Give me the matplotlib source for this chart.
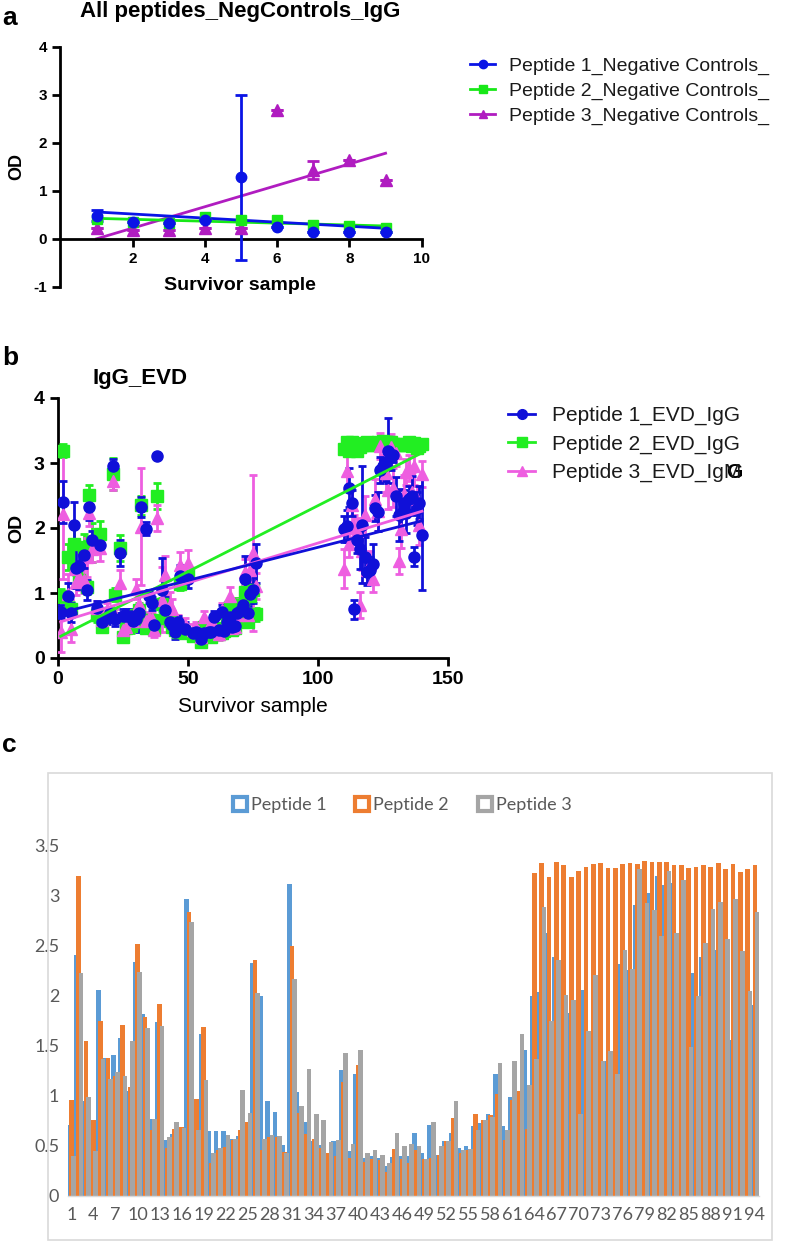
import numpy as np
import matplotlib.pyplot as plt
from matplotlib.lines import Line2D
from matplotlib.patches import Rectangle

W, H = 787, 1247

# ---- panel a: negative controls ----
neg_x = [1, 2, 3, 4, 5, 6, 7, 8, 9]
neg_p1 = [0.48, 0.35, 0.33, 0.38, 1.28, 0.25, 0.15, 0.13, 0.13]
neg_p1_err = [0.12, 0, 0, 0, 1.72, 0, 0, 0, 0]
neg_p2 = [0.42, 0.35, 0.33, 0.45, 0.38, 0.40, 0.28, 0.27, 0.22]
neg_p3 = [0.22, 0.18, 0.18, 0.22, 0.22, 2.68, 1.43, 1.65, 1.22]
neg_p3_err = [0, 0, 0, 0, 0, 0, 0.18, 0, 0]
neg_labels = ['Peptide 1_Negative Controls_', 'Peptide 2_Negative Controls_',
              'Peptide 3_Negative Controls_']

# ---- panels b and c: EVD survivors (same 94 samples) ----
sample_ids = [1, 2, 4, 5, 6, 7, 8, 10, 11, 12,
              13, 15, 16, 17, 19, 20, 21, 22, 24, 25,
              26, 28, 29, 30, 31, 32, 34, 35, 36, 37,
              38, 40, 41, 43, 44, 45, 46, 47, 49, 50,
              52, 53, 54, 55, 56, 58, 59, 60, 62, 63,
              64, 65, 66, 67, 68, 69, 70, 71, 72, 73,
              74, 75, 76, 110, 111, 112, 113, 114, 115, 116,
              117, 118, 119, 120, 121, 122, 123, 124, 125, 126,
              127, 128, 129, 130, 131, 132, 133, 134, 135, 136,
              137, 138, 139, 140]
pep1 = [0.71, 2.40, 0.95, 0.70, 2.05, 1.38, 1.41, 1.58, 1.05, 2.33,
        1.81, 0.77, 1.74, 0.56, 0.62, 0.69, 2.96, 0.60, 1.62, 0.65,
        0.65, 0.65, 0.57, 0.60, 0.70, 2.32, 1.99, 0.95, 0.84, 0.51,
        3.11, 1.04, 0.74, 0.55, 0.51, 0.40, 0.55, 1.26, 0.45, 1.22,
        0.38, 0.40, 0.38, 0.30, 0.39, 0.40, 0.40, 0.63, 0.43, 0.71,
        0.41, 0.55, 0.63, 0.48, 0.50, 0.70, 0.73, 0.82, 1.22, 0.70,
        0.99, 1.05, 1.46, 1.99, 2.03, 2.62, 2.38, 0.75, 1.82, 1.67,
        2.05, 1.56, 1.32, 1.35, 1.45, 2.31, 2.25, 2.90, 2.95, 3.02,
        3.19, 3.10, 3.12, 2.49, 2.20, 2.22, 2.38, 2.23, 2.45, 2.50,
        1.56, 2.30, 2.39, 1.90]
pep2 = [0.96, 3.19, 1.55, 0.76, 1.75, 1.38, 1.20, 1.71, 1.09, 2.51,
        1.78, 0.66, 1.91, 0.48, 0.67, 0.69, 2.83, 0.97, 1.69, 0.33,
        0.46, 0.49, 0.56, 0.66, 0.74, 2.35, 0.46, 0.59, 0.59, 0.44,
        2.49, 0.83, 0.62, 0.57, 0.48, 0.43, 0.40, 1.14, 0.38, 1.31,
        0.34, 0.37, 0.36, 0.24, 0.47, 0.37, 0.33, 0.46, 0.37, 0.38,
        0.41, 0.55, 0.78, 0.43, 0.46, 0.82, 0.76, 0.81, 1.02, 0.56,
        0.96, 1.05, 0.67, 3.22, 3.32, 3.18, 3.33, 3.30, 3.18, 3.24,
        3.28, 3.31, 3.32, 3.27, 3.27, 3.31, 3.32, 3.31, 3.34, 3.33,
        3.33, 3.33, 3.30, 3.30, 3.27, 3.28, 3.30, 3.28, 3.32, 3.26,
        3.31, 3.23, 3.26, 3.30]
pep3 = [0.40, 2.22, 0.99, 0.45, 1.37, 1.17, 1.24, 1.20, 1.55, 2.23,
        1.68, 0.77, 1.70, 0.59, 0.74, 0.68, 2.73, 0.66, 1.16, 0.43,
        0.48, 0.61, 0.57, 1.06, 0.83, 2.02, 0.57, 0.61, 0.60, 0.43,
        2.16, 0.90, 1.27, 0.82, 0.76, 0.54, 0.56, 1.43, 0.52, 1.46,
        0.43, 0.46, 0.41, 0.33, 0.63, 0.50, 0.52, 0.50, 0.37, 0.74,
        0.50, 0.55, 0.95, 0.46, 0.47, 0.66, 0.76, 0.79, 1.33, 0.66,
        1.35, 1.62, 1.11, 1.37, 2.88, 1.75, 2.35, 2.00, 1.95, 0.82,
        1.65, 2.20, 1.35, 1.45, 1.22, 2.45, 2.26, 3.26, 2.92, 2.85,
        2.59, 3.24, 2.62, 3.15, 1.49, 1.99, 2.52, 2.86, 2.93, 2.56,
        2.96, 2.44, 2.04, 2.83]
pep1_err = [0.10, 0.33, 0.20, 0.15, 0.35, 0.30, 0.35, 0.20, 0.15, 0.20,
            0.15, 0.10, 0.10, 0.10, 0.10, 0.10, 0.10, 0.10, 0.20, 0.10,
            0.10, 0.10, 0.10, 0.10, 0.30, 0.15, 0.10, 0.10, 0.10, 0.10,
            0.00, 0.50, 0.20, 0.10, 0.10, 0.10, 0.10, 0.17, 0.10, 0.15,
            0.05, 0.05, 0.05, 0.05, 0.10, 0.05, 0.05, 0.10, 0.05, 0.10,
            0.05, 0.05, 0.10, 0.05, 0.05, 0.10, 0.10, 0.15, 0.35, 0.10,
            0.15, 0.20, 0.30, 0.20, 0.25, 0.30, 0.20, 0.15, 0.20, 0.30,
            0.90, 0.30, 0.20, 0.20, 0.30, 0.20, 0.30, 0.20, 0.10, 0.30,
            0.50, 0.20, 0.10, 0.30, 0.40, 0.30, 0.20, 0.30, 0.20, 0.30,
            0.15, 0.25, 0.25, 0.85]
pep2_err = [0.10, 0.10, 0.20, 0.10, 0.25, 0.10, 0.10, 0.20, 0.10, 0.15,
            0.30, 0.10, 0.20, 0.05, 0.05, 0.05, 0.25, 0.10, 0.20, 0.05,
            0.05, 0.10, 0.05, 0.10, 0.10, 0.15, 0.05, 0.10, 0.05, 0.05,
            0.20, 0.10, 0.10, 0.05, 0.05, 0.05, 0.05, 0.10, 0.05, 0.10,
            0.05, 0.05, 0.05, 0.05, 0.05, 0.05, 0.05, 0.05, 0.05, 0.05,
            0.05, 0.05, 0.10, 0.05, 0.05, 0.10, 0.05, 0.10, 0.10, 0.05,
            0.10, 0.10, 0.10, 0.05, 0.05, 0.05, 0.05, 0.05, 0.05, 0.05,
            0.05, 0.05, 0.05, 0.05, 0.05, 0.05, 0.05, 0.05, 0.05, 0.05,
            0.05, 0.05, 0.05, 0.05, 0.05, 0.05, 0.05, 0.05, 0.05, 0.05,
            0.05, 0.05, 0.05, 0.05]
pep3_err = [0.30, 1.00, 0.30, 0.20, 0.30, 0.20, 0.20, 0.20, 0.30, 0.20,
            0.20, 0.10, 0.20, 0.10, 0.10, 0.10, 0.15, 0.10, 0.20, 0.10,
            0.10, 0.10, 0.10, 0.15, 0.20, 0.90, 0.10, 0.10, 0.10, 0.10,
            0.20, 0.50, 0.30, 0.20, 0.15, 0.10, 0.10, 0.20, 0.10, 0.20,
            0.10, 0.10, 0.10, 0.10, 0.10, 0.10, 0.10, 0.10, 0.10, 0.10,
            0.10, 0.10, 0.15, 0.10, 0.10, 0.10, 0.15, 0.20, 0.20, 0.10,
            0.20, 1.20, 0.20, 0.30, 0.30, 0.20, 0.30, 0.20, 0.20, 0.20,
            0.30, 0.30, 0.20, 0.20, 0.20, 0.30, 0.30, 0.20, 0.20, 0.30,
            0.30, 0.20, 0.30, 0.20, 0.20, 0.30, 0.30, 0.20, 0.20, 0.30,
            0.30, 0.20, 0.30, 0.20]
evd_labels = ['Peptide 1_EVD_IgG', 'Peptide 2_EVD_IgG', 'Peptide 3_EVD_IgM']
bar_labels = ['Peptide 1', 'Peptide 2', 'Peptide 3']

plt.rcParams['font.family'] = ['Liberation Sans', 'DejaVu Sans']
fig = plt.figure(figsize=(W / 100, H / 100), dpi=100)


def px_axes(x0, y0, x1, y1):
    return fig.add_axes([x0 / W, 1 - y1 / H, (x1 - x0) / W, (y1 - y0) / H])


def ftext(x, y, s, **kw):
    return fig.text(x / W, 1 - y / H, s, **kw)


def prism_style(ax, tsize):
    for s in ['top', 'right']:
        ax.spines[s].set_visible(False)
    for s in ['left', 'bottom']:
        ax.spines[s].set_linewidth(2)
    ax.tick_params(direction='out', length=6, width=2, labelsize=tsize)
    for lab in ax.get_xticklabels() + ax.get_yticklabels():
        lab.set_fontweight('bold')


# ================= panel a =================
blue_a, green_a, mag_a = '#0a14e6', '#18e818', '#b01cc0'
ax = px_axes(60.4, 46.7, 421.7, 286.7)
ax.set_xlim(0, 10)
ax.set_ylim(-1, 4)
ax.spines['bottom'].set_position(('data', 0))
ax.set_xticks([2, 4, 6, 8, 10])
ax.set_yticks([-1, 0, 1, 2, 3, 4])
ax.set_yticklabels(['-1', '0', '1', '2', '3', '4'])
prism_style(ax, 11)

series_a = [(neg_p3, neg_p3_err, mag_a, '^', 8), (neg_p2, None, green_a, 's', 7),
            (neg_p1, neg_p1_err, blue_a, 'o', 7.5)]
for ys, err, col, mk, ms in series_a:
    m, c = np.polyfit(neg_x, ys, 1)
    xs = np.array([min(neg_x), max(neg_x)])
    ax.plot(xs, m * xs + c, color=col, lw=2, zorder=2)
for ys, err, col, mk, ms in series_a:
    ax.errorbar(neg_x, ys, yerr=err, fmt=mk, color=col, ms=ms, capsize=4,
                elinewidth=2, capthick=2, zorder=3, clip_on=False)

ftext(2, 18, 'a', fontsize=19, fontweight='bold', va='center')
ftext(240, 12, 'All peptides_NegControls_IgG', fontsize=16, fontweight='bold',
      ha='center', va='center')
ftext(240, 285, 'Survivor sample', fontsize=14, fontweight='bold', ha='center', va='center')
ftext(17, 167, 'OD', fontsize=13, fontweight='bold', rotation=90, ha='center', va='center')

hand_a = [Line2D([0], [0], color=blue_a, marker='o', lw=2, ms=6),
          Line2D([0], [0], color=green_a, marker='s', lw=2, ms=6),
          Line2D([0], [0], color=mag_a, marker='^', lw=2, ms=6)]
fig.legend(hand_a, neg_labels, loc='upper left', bbox_to_anchor=(470 / W, 1 - 57 / H),
           frameon=False, fontsize=14, handlelength=1.3, handletextpad=0.7,
           labelspacing=0.38, borderpad=0, borderaxespad=0, labelcolor='#1a1a1a')

# ================= panel b =================
blue_b, green_b, pink_b = '#1010d8', '#22ee22', '#ee5ee0'
ax = px_axes(58, 398, 448, 658)
ax.set_xlim(0, 150)
ax.set_ylim(0, 4)
ax.set_xticks([0, 50, 100, 150])
ax.set_yticks([0, 1, 2, 3, 4])
prism_style(ax, 14)

series_b = [(pep2, pep2_err, green_b, 's'), (pep3, pep3_err, pink_b, '^'),
            (pep1, pep1_err, blue_b, 'o')]
for ys, err, col, mk in series_b:
    ax.errorbar(sample_ids, ys, yerr=err, fmt=mk, color=col, ms=8, capsize=3,
                elinewidth=2, capthick=2, zorder=3)
for ys, err, col, mk in series_b:
    m, c = np.polyfit(sample_ids, ys, 1)
    xs = np.array([min(sample_ids), max(sample_ids)])
    ax.plot(xs, m * xs + c, color=col, lw=2, zorder=4)

ftext(2, 358, 'b', fontsize=19, fontweight='bold', va='center')
ftext(140, 378, 'IgG_EVD', fontsize=16, fontweight='bold', ha='center', va='center')
ftext(253, 706, 'Survivor sample', fontsize=15, ha='center', va='center')
ftext(17, 528, 'OD', fontsize=14, fontweight='bold', rotation=90, ha='center', va='center')

hand_b = [Line2D([0], [0], color=blue_b, marker='o', lw=2, ms=7),
          Line2D([0], [0], color=green_b, marker='s', lw=2, ms=7),
          Line2D([0], [0], color=pink_b, marker='^', lw=2, ms=7)]
leg_b = fig.legend(hand_b, evd_labels, loc='upper left',
                   bbox_to_anchor=(508 / W, 1 - 406 / H), frameon=False, fontsize=15,
                   handlelength=1.3, handletextpad=0.8, labelspacing=0.45,
                   borderpad=0, borderaxespad=0, labelcolor='#1a1a1a')

# ================= panel c =================
c_blue, c_orange, c_gray = '#5b9bd5', '#ed7d31', '#a5a5a5'
txt_gray = '#595959'
fig.patches.append(Rectangle((48 / W, 1 - 1240 / H), (772 - 48) / W, (1240 - 773) / H,
                             transform=fig.transFigure, fill=False, ec='#d9d9d9', lw=1.2))
ftext(2, 745, 'c', fontsize=19, fontweight='bold', va='center')

ax = px_axes(67.7, 845, 758.6, 1196)
cats = np.arange(1, len(pep1) + 1)
bw = 0.64
ax.bar(cats - 0.31, pep1, width=bw, color=c_blue, lw=0)
ax.bar(cats, pep2, width=bw, color=c_orange, lw=0)
ax.bar(cats + 0.31, pep3, width=bw, color=c_gray, lw=0)
ax.set_xlim(0.5, len(pep1) + 0.5)
ax.set_ylim(0, 3.5)
for s in ['top', 'right', 'left']:
    ax.spines[s].set_visible(False)
ax.spines['bottom'].set_color('#d9d9d9')
ax.spines['bottom'].set_linewidth(1)
ax.set_xticks(cats[::3])
ax.set_xticklabels([str(k) for k in cats[::3]], fontsize=13, color=txt_gray,
                   family='Lato')
ax.set_yticks([0, 0.5, 1, 1.5, 2, 2.5, 3, 3.5])
ax.set_yticklabels(['0', '0.5', '1', '1.5', '2', '2.5', '3', '3.5'], fontsize=13,
                   color=txt_gray, family='Lato')
ax.tick_params(length=0, pad=8)
ax.tick_params(axis='y', pad=6)

hand_c = [Line2D([], [], ls='none', marker='s', ms=10, mfc='white', mec=col, mew=3)
          for col in (c_blue, c_orange, c_gray)]
leg_c = fig.legend(hand_c, bar_labels, loc='center', bbox_to_anchor=(402 / W, 1 - 805 / H),
                   ncol=3, frameon=False, handlelength=0.8, handletextpad=0.2,
                   columnspacing=1.6, prop={'family': 'Lato', 'size': 13})
for t in leg_c.get_texts():
    t.set_color(txt_gray)

# stray bold G drawn over the last legend entry of panel b
fig.canvas.draw()
bb = leg_b.get_texts()[2].get_window_extent()
fig.text((bb.x1 - 15) / W, (bb.y0 + bb.y1) / 2 / H, 'G', fontsize=15, fontweight='bold',
         color='black', va='center', ha='left')

fig.savefig('out.png', dpi=100)
